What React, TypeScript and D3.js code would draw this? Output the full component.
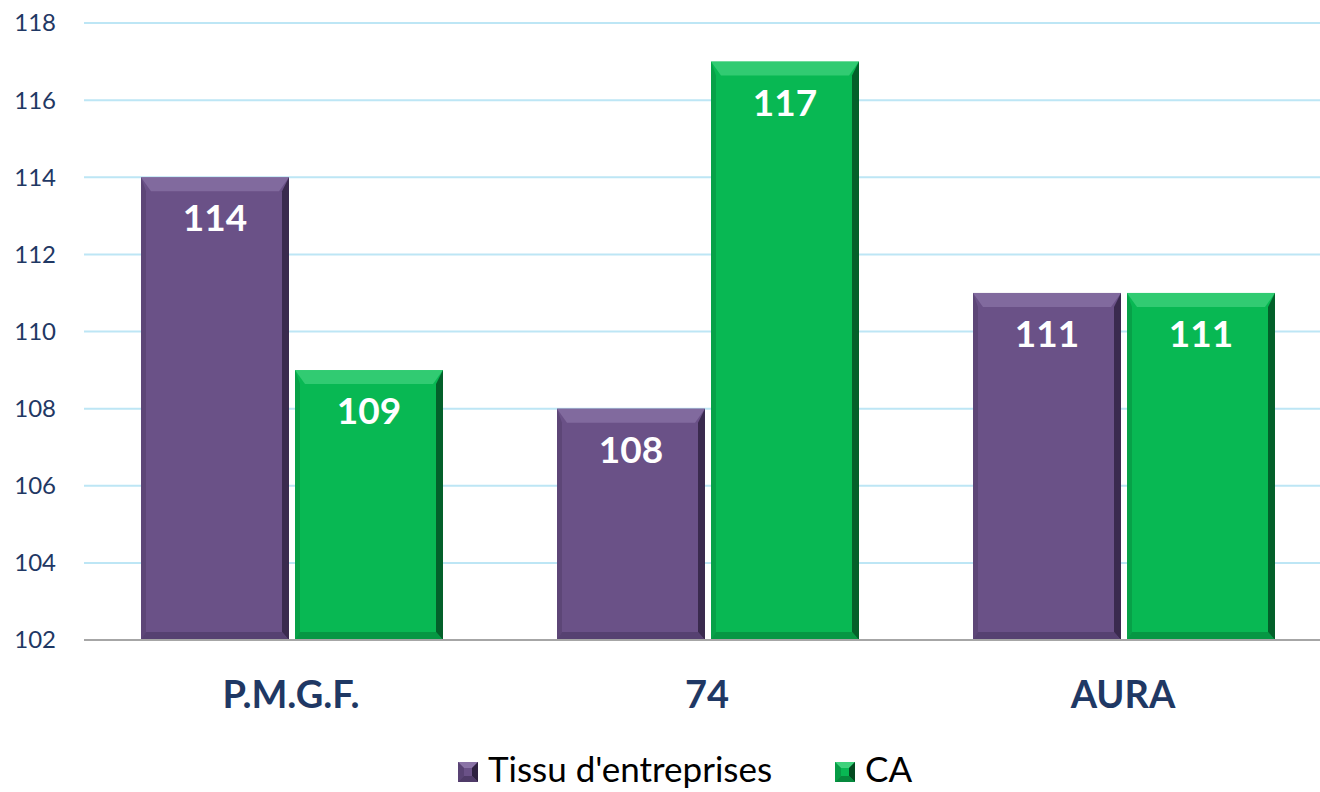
import React, { useRef, useEffect } from 'react';
import * as d3 from 'd3';

const categories = ['P.M.G.F.', '74', 'AURA'];
const seriesNames = ["Tissu d'entreprises", 'CA'];
const tissu = [114, 108, 111];
const ca = [109, 117, 111];
const yTicks = [102, 104, 106, 108, 110, 112, 114, 116, 118];

const colors = ['#6a5187', '#08b853'];
const lightColors = ['#8a73a6', '#3fd27c'];
const darkColors = ['#2e2140', '#034a20'];
const midDark = ['#4f3b68', '#06893d'];

const FONT = 'Lato, "Open Sans", sans-serif';

const App: React.FC = () => {
  const svgRef = useRef<SVGSVGElement>(null);

  useEffect(() => {
    if (!svgRef.current) return;
    const svg = d3.select(svgRef.current);
    svg.selectAll('*').remove();

    const W = 1320;
    const left = 84, right = 1332, top = 23, bottom = 640;

    const x = d3.scaleBand().domain(categories).range([left, right]).paddingInner(0).paddingOuter(0);
    const y = d3.scaleLinear().domain([102, 118]).range([bottom, top]);

    // gridlines
    svg.append('g').selectAll('line').data(yTicks.slice(1)).join('line')
      .attr('x1', left).attr('x2', W)
      .attr('y1', d => y(d)).attr('y2', d => y(d))
      .attr('stroke', '#bde6f5').attr('stroke-width', 2);

    // tick labels
    svg.append('g').selectAll('text').data(yTicks).join('text')
      .attr('x', 56).attr('y', d => y(d))
      .attr('dy', '0.35em')
      .attr('text-anchor', 'end')
      .attr('font-family', FONT)
      .attr('font-size', 24)
      .attr('fill', '#1f3864')
      .text(d => d);

    const barW = 148, gap = 6;
    const data = categories.flatMap((c, i) => [
      { c, s: 0, v: tissu[i] },
      { c, s: 1, v: ca[i] },
    ]);

    const bars = svg.append('g');
    data.forEach(d => {
      const cx = (x(d.c) as number) + x.bandwidth() / 2;
      const x0 = d.s === 0 ? cx - gap / 2 - barW : cx + gap / 2;
      const x1 = x0 + barW;
      const y0 = y(d.v), y1 = y(102);
      const b = 10;
      const g = bars.append('g');
      g.append('rect').attr('x', x0).attr('y', y0).attr('width', barW).attr('height', y1 - y0)
        .attr('fill', colors[d.s]);
      // top bevel
      g.append('polygon')
        .attr('points', `${x0},${y0} ${x1},${y0} ${x1 - b},${y0 + b + 4} ${x0 + b},${y0 + b + 4}`)
        .attr('fill', lightColors[d.s]).attr('opacity', 0.75);
      // left bevel
      g.append('polygon')
        .attr('points', `${x0},${y0} ${x0 + 5},${y0 + b + 4} ${x0 + 5},${y1 - 8} ${x0},${y1}`)
        .attr('fill', midDark[d.s]).attr('opacity', 0.5);
      // right bevel
      g.append('polygon')
        .attr('points', `${x1},${y0} ${x1 - 7},${y0 + b + 4} ${x1 - 7},${y1 - 8} ${x1},${y1}`)
        .attr('fill', darkColors[d.s]).attr('opacity', 0.8);
      // bottom bevel
      g.append('polygon')
        .attr('points', `${x0},${y1} ${x0 + 5},${y1 - 8} ${x1 - 7},${y1 - 8} ${x1},${y1}`)
        .attr('fill', midDark[d.s]).attr('opacity', 0.7);
      // value label
      g.append('text')
        .attr('x', (x0 + x1) / 2).attr('y', y0 + 41)
        .attr('dy', '0.35em')
        .attr('text-anchor', 'middle')
        .attr('font-family', FONT)
        .attr('font-weight', 'bold')
        .attr('font-size', 37)
        .attr('fill', '#ffffff')
        .text(d.v);
    });

    // baseline
    svg.append('line').attr('x1', left).attr('x2', W).attr('y1', bottom).attr('y2', bottom)
      .attr('stroke', '#a6a6a6').attr('stroke-width', 2);

    // category labels
    svg.append('g').selectAll('text').data(categories).join('text')
      .attr('x', d => (x(d) as number) + x.bandwidth() / 2 - 1)
      .attr('y', 695).attr('dy', '0.35em')
      .attr('text-anchor', 'middle')
      .attr('font-family', FONT)
      .attr('font-weight', 'bold')
      .attr('font-size', 38)
      .attr('fill', '#1f3864')
      .text(d => d);

    // legend
    const legendItems = [
      { name: seriesNames[0], x: 458 },
      { name: seriesNames[1], x: 835 },
    ];
    legendItems.forEach((it, i) => {
      const g = svg.append('g').attr('transform', `translate(${it.x},762)`);
      g.append('rect').attr('width', 20).attr('height', 20).attr('fill', colors[i]);
      g.append('polygon').attr('points', '0,0 20,0 14,6 6,6').attr('fill', lightColors[i]);
      g.append('polygon').attr('points', '20,0 20,20 14,14 14,6').attr('fill', darkColors[i]);
      g.append('polygon').attr('points', '0,20 20,20 14,14 6,14').attr('fill', midDark[i]);
      g.append('polygon').attr('points', '0,0 0,20 6,14 6,6').attr('fill', midDark[i]).attr('opacity', 0.6);
      g.append('text').attr('x', 30).attr('y', 8).attr('dy', '0.35em')
        .attr('font-family', FONT)
        .attr('font-size', 35).attr('fill', '#000')
        .text(it.name);
    });
  }, []);

  return (
    <svg ref={svgRef} width={1320} height={792}
      style={{ position: 'absolute', left: 0, top: 0, background: '#fff' }} />
  );
};

export default App;
